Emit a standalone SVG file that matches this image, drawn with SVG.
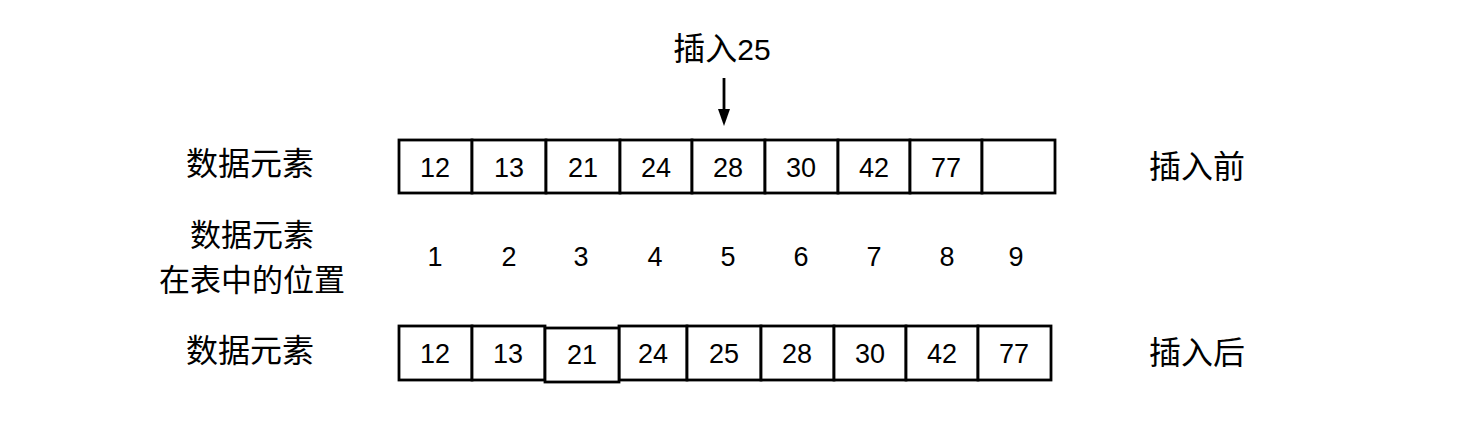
<svg xmlns="http://www.w3.org/2000/svg" width="1467" height="442" viewBox="0 0 1467 442">
<style>
.cell{fill:#fff;stroke:#000;stroke-width:2.8}
.num{font-family:"Liberation Sans","Open Sans",sans-serif;font-size:27px;fill:#000;text-anchor:middle}
.cjk{font-family:"Noto Sans CJK SC",sans-serif;font-size:32px;fill:#000;text-anchor:middle}
</style>
<rect width="1467" height="442" fill="#fff"/>
<g id="label-insert">
<text class="cjk" x="722" y="60">插入<tspan font-family="Liberation Sans, sans-serif" font-size="30">25</tspan></text>
</g>
<g id="connectors">
<line x1="724" y1="78" x2="724" y2="112" stroke="#000" stroke-width="2.8"/>
<path d="M718,109 L730,109 L724,126 Z" fill="#000"/>
</g>
<g id="labels-left">
<text class="cjk" x="250" y="175">数据元素</text>
<text class="cjk" x="252" y="246" style="font-size:31px">数据元素</text>
<text class="cjk" x="252" y="291" style="font-size:31px">在表中的位置</text>
<text class="cjk" x="250" y="362">数据元素</text>
</g>
<g id="labels-right">
<text class="cjk" x="1197" y="178">插入前</text>
<text class="cjk" x="1197" y="364">插入后</text>
</g>
<g id="row-before">
<rect class="cell" x="399" y="140" width="73" height="53"/>
<rect class="cell" x="472" y="140" width="74" height="53"/>
<rect class="cell" x="546" y="140" width="74" height="53"/>
<rect class="cell" x="620" y="140" width="72" height="53"/>
<rect class="cell" x="692" y="140" width="73" height="53"/>
<rect class="cell" x="765" y="140" width="73" height="53"/>
<rect class="cell" x="838" y="140" width="72" height="53"/>
<rect class="cell" x="910" y="140" width="72" height="53"/>
<rect class="cell" x="982" y="140" width="73" height="53"/>
<text class="num" x="435" y="177">12</text>
<text class="num" x="509" y="177">13</text>
<text class="num" x="583" y="177">21</text>
<text class="num" x="656" y="177">24</text>
<text class="num" x="728" y="177">28</text>
<text class="num" x="801" y="177">30</text>
<text class="num" x="874" y="177">42</text>
<text class="num" x="946" y="177">77</text>
</g>
<g id="row-index">
<text class="num" x="435" y="266">1</text>
<text class="num" x="509" y="266">2</text>
<text class="num" x="581" y="266">3</text>
<text class="num" x="655" y="266">4</text>
<text class="num" x="728" y="266">5</text>
<text class="num" x="801" y="266">6</text>
<text class="num" x="874" y="266">7</text>
<text class="num" x="947" y="266">8</text>
<text class="num" x="1016" y="266">9</text>
</g>
<g id="row-after">
<rect class="cell" x="399" y="326" width="73" height="54"/>
<rect class="cell" x="472" y="326" width="73" height="54"/>
<rect class="cell" x="619" y="326" width="68" height="54"/>
<rect class="cell" x="687" y="326" width="74" height="54"/>
<rect class="cell" x="761" y="326" width="73" height="54"/>
<rect class="cell" x="834" y="326" width="72" height="54"/>
<rect class="cell" x="906" y="326" width="72" height="54"/>
<rect class="cell" x="978" y="326" width="73" height="54"/>
<rect class="cell" x="545" y="328" width="74" height="54"/>
<text class="num" x="435" y="363">12</text>
<text class="num" x="508" y="363">13</text>
<text class="num" x="582" y="364">21</text>
<text class="num" x="653" y="363">24</text>
<text class="num" x="724" y="363">25</text>
<text class="num" x="797" y="363">28</text>
<text class="num" x="870" y="363">30</text>
<text class="num" x="942" y="363">42</text>
<text class="num" x="1014" y="363">77</text>
</g>
</svg>
